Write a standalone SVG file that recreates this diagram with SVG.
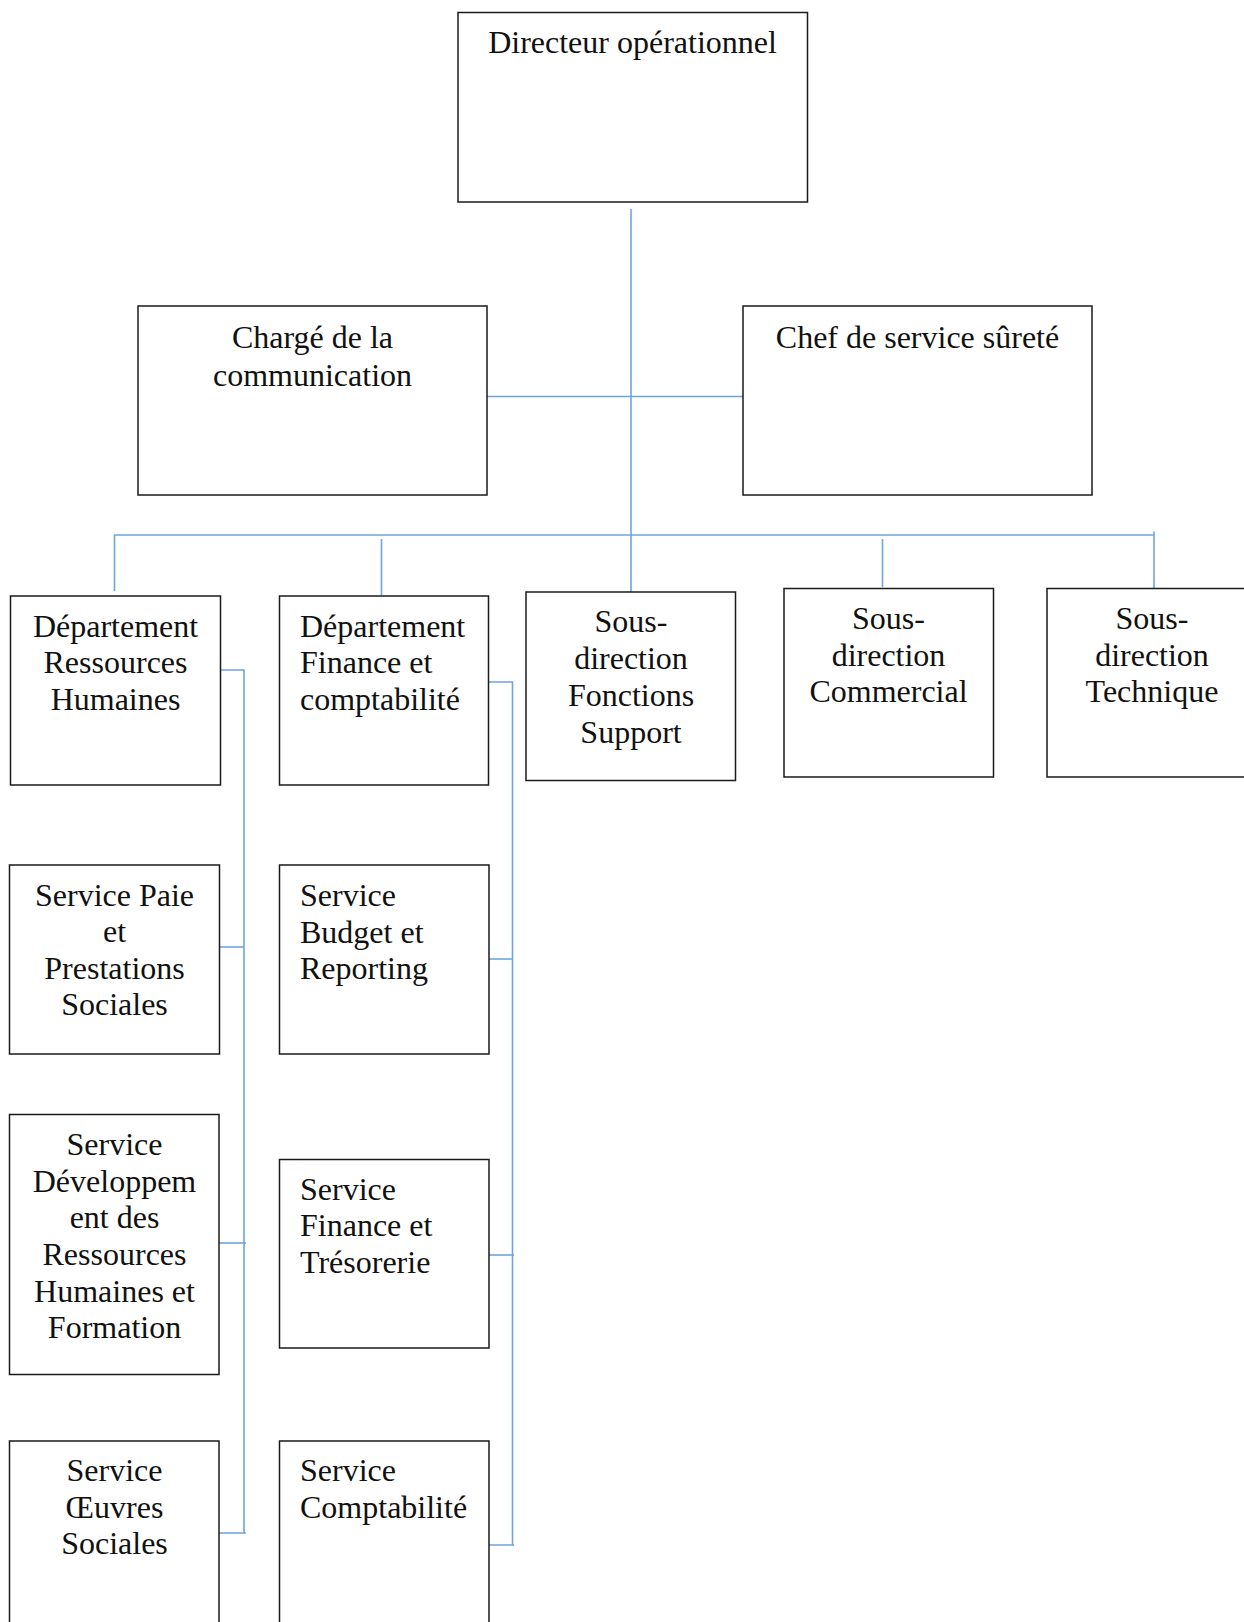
<svg xmlns="http://www.w3.org/2000/svg" width="1244" height="1622" viewBox="0 0 1244 1622">
  <style>
    .box { fill: #ffffff; stroke: #1a1a1a; stroke-width: 1.5; }
    .lbl { font-family: "Liberation Serif", "Times New Roman", serif; font-size: 32px; fill: #111111; }
    .c { text-anchor: middle; }
    .l { text-anchor: start; }
    .link { fill: none; stroke: #6fa4dc; stroke-width: 1.6; }
  </style>
  <rect width="1244" height="1622" fill="#ffffff"/>

  <!-- connectors -->
  <g id="connectors">
    <path class="link" d="M631 209 V594"/>
    <path class="link" d="M487 396.5 H748"/>
    <path class="link" d="M114 535 H1154"/>
    <path class="link" d="M1154 531.5 V588.5"/>
    <path class="link" d="M114.5 535 V591"/>
    <path class="link" d="M381.5 539 V595"/>
    <path class="link" d="M882.5 539 V587"/>
    <!-- HR department branch -->
    <path class="link" d="M220.5 670 H244 V1533 H219"/>
    <path class="link" d="M219 947 H244"/>
    <path class="link" d="M219 1243 H246"/>
    <path class="link" d="M244 1533 H246"/>
    <!-- Finance department branch -->
    <path class="link" d="M488.5 682 H512.5 V1545 H488"/>
    <path class="link" d="M489 959 H512.5"/>
    <path class="link" d="M489 1255 H514"/>
    <path class="link" d="M512.5 1545 H514"/>
  </g>

  <g id="directeur">
    <rect class="box" x="458" y="12.5" width="349.5" height="189.5"/>
    <text class="lbl c" x="632.5" y="53">Directeur opérationnel</text>
  </g>

  <g id="charge-communication">
    <rect class="box" x="138" y="306" width="349" height="189"/>
    <text class="lbl c" x="312.5" y="347.5">Chargé de la</text>
    <text class="lbl c" x="312.5" y="386">communication</text>
  </g>

  <g id="chef-surete">
    <rect class="box" x="743" y="306" width="349" height="189"/>
    <text class="lbl c" x="917.5" y="347.5">Chef de service sûreté</text>
  </g>

  <g id="dept-rh">
    <rect class="box" x="10.5" y="596" width="210" height="189"/>
    <text class="lbl c" x="115.5" y="636.5">Département</text>
    <text class="lbl c" x="115.5" y="673">Ressources</text>
    <text class="lbl c" x="115.5" y="709.5">Humaines</text>
  </g>

  <g id="dept-finance">
    <rect class="box" x="279.5" y="596" width="209" height="189"/>
    <text class="lbl l" x="300" y="636.5">Département</text>
    <text class="lbl l" x="300" y="673">Finance et</text>
    <text class="lbl l" x="300" y="709.5">comptabilité</text>
  </g>

  <g id="sd-fonctions-support">
    <rect class="box" x="526" y="592" width="209.5" height="188.5"/>
    <text class="lbl c" x="631" y="632">Sous-</text>
    <text class="lbl c" x="631" y="669">direction</text>
    <text class="lbl c" x="631" y="706">Fonctions</text>
    <text class="lbl c" x="631" y="742.5">Support</text>
  </g>

  <g id="sd-commercial">
    <rect class="box" x="784" y="588.5" width="209.5" height="188.5"/>
    <text class="lbl c" x="888.5" y="628.5">Sous-</text>
    <text class="lbl c" x="888.5" y="665.5">direction</text>
    <text class="lbl c" x="888.5" y="702">Commercial</text>
  </g>

  <g id="sd-technique">
    <rect class="box" x="1047" y="588.5" width="210" height="188.5"/>
    <text class="lbl c" x="1152" y="628.5">Sous-</text>
    <text class="lbl c" x="1152" y="665.5">direction</text>
    <text class="lbl c" x="1152" y="702">Technique</text>
  </g>

  <g id="service-paie">
    <rect class="box" x="9.5" y="865" width="210" height="189"/>
    <text class="lbl c" x="114.5" y="906">Service Paie</text>
    <text class="lbl c" x="114.5" y="942">et</text>
    <text class="lbl c" x="114.5" y="978.5">Prestations</text>
    <text class="lbl c" x="114.5" y="1015">Sociales</text>
  </g>

  <g id="service-budget">
    <rect class="box" x="279.5" y="865" width="209.5" height="189"/>
    <text class="lbl l" x="300" y="906">Service</text>
    <text class="lbl l" x="300" y="942.5">Budget et</text>
    <text class="lbl l" x="300" y="978.5">Reporting</text>
  </g>

  <g id="service-developpement">
    <rect class="box" x="9.5" y="1114.5" width="209.5" height="260"/>
    <text class="lbl c" x="114.5" y="1154.5">Service</text>
    <text class="lbl c" x="114.5" y="1191.5">Développem</text>
    <text class="lbl c" x="114.5" y="1228">ent des</text>
    <text class="lbl c" x="114.5" y="1264.5">Ressources</text>
    <text class="lbl c" x="114.5" y="1301.5">Humaines et</text>
    <text class="lbl c" x="114.5" y="1338">Formation</text>
  </g>

  <g id="service-tresorerie">
    <rect class="box" x="279.5" y="1159.5" width="209.5" height="188.5"/>
    <text class="lbl l" x="300" y="1199.5">Service</text>
    <text class="lbl l" x="300" y="1236">Finance et</text>
    <text class="lbl l" x="300" y="1272.5">Trésorerie</text>
  </g>

  <g id="service-oeuvres">
    <rect class="box" x="9.5" y="1441" width="209.5" height="200"/>
    <text class="lbl c" x="114.5" y="1481">Service</text>
    <text class="lbl c" x="114.5" y="1517.5">Œuvres</text>
    <text class="lbl c" x="114.5" y="1554">Sociales</text>
  </g>

  <g id="service-comptabilite">
    <rect class="box" x="279.5" y="1441" width="209.5" height="200"/>
    <text class="lbl l" x="300" y="1481">Service</text>
    <text class="lbl l" x="300" y="1517.5">Comptabilité</text>
  </g>
</svg>
